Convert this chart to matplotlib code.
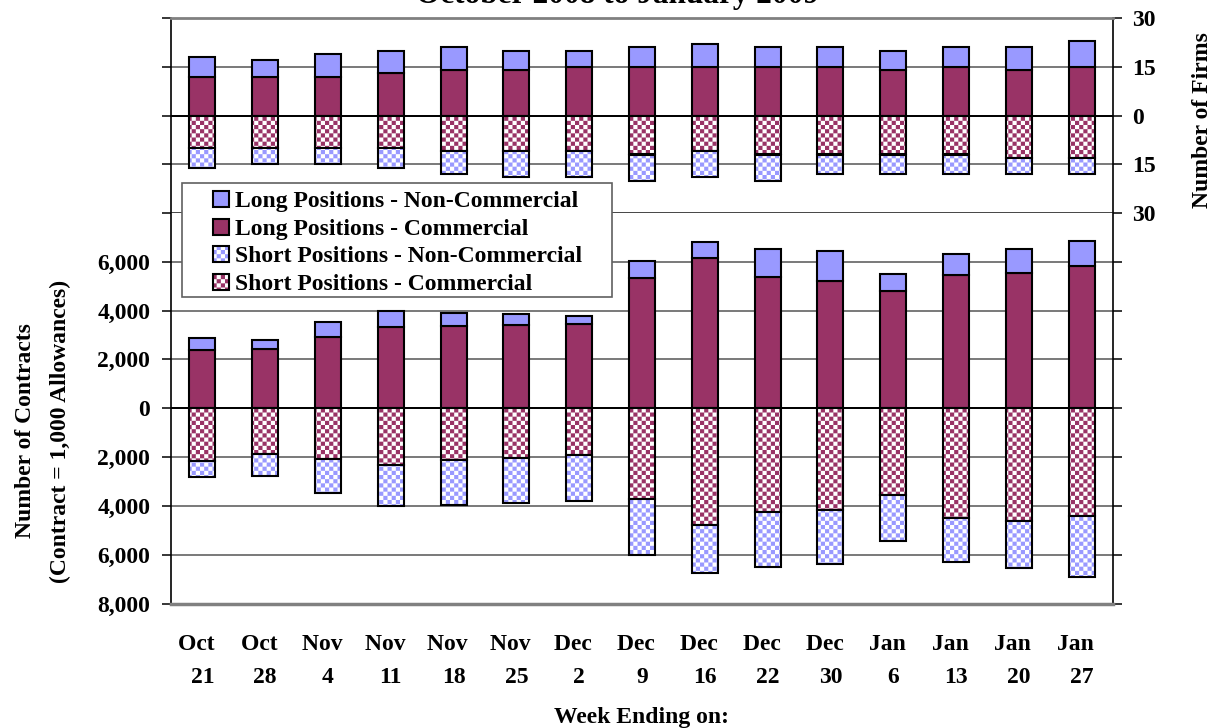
import matplotlib
matplotlib.use("Agg")
import matplotlib.pyplot as plt
import matplotlib.hatch as mhatch
from matplotlib.path import Path
from matplotlib.patches import Rectangle
import matplotlib.colors as mcolors
import numpy as np

# ---------------- data ----------------
months = ["Oct", "Oct", "Nov", "Nov", "Nov", "Nov", "Dec", "Dec", "Dec", "Dec", "Dec", "Jan", "Jan", "Jan", "Jan"]
days = [21, 28, 4, 11, 18, 25, 2, 9, 16, 22, 30, 6, 13, 20, 27]

# Number of firms
firms_long_comm = [12, 12, 12, 13, 14, 14, 15, 15, 15, 15, 15, 14, 15, 14, 15]
firms_long_noncomm = [6, 5, 7, 7, 7, 6, 5, 6, 7, 6, 6, 6, 6, 7, 8]
firms_short_comm = [10, 10, 10, 10, 11, 11, 11, 12, 11, 12, 12, 12, 12, 13, 13]
firms_short_noncomm = [6, 5, 5, 6, 7, 8, 8, 8, 8, 8, 6, 6, 6, 5, 5]

# Number of contracts
contracts_long_comm = [2390, 2420, 2935, 3330, 3385, 3415, 3440, 5340, 6165, 5385, 5205, 4810, 5440, 5535, 5810]
contracts_long_total = [2895, 2800, 3535, 4000, 3920, 3865, 3795, 6030, 6822, 6534, 6425, 5507, 6315, 6507, 6836]
contracts_short_comm = [2170, 1855, 2090, 2335, 2130, 2020, 1910, 3727, 4765, 4260, 4165, 3550, 4505, 4600, 4395]
contracts_short_total = [2825, 2760, 3480, 4015, 3975, 3865, 3785, 5995, 6760, 6500, 6375, 5450, 6305, 6525, 6895]

series_names = ["Long Positions - Non-Commercial", "Long Positions - Commercial",
                "Short Positions - Non-Commercial", "Short Positions - Commercial"]

# ---------------- styles ----------------
C_BLUE = "#9999FF"
C_MAROON = "#993366"
FONT = "Liberation Serif"
FS = 17


# checkerboard hatch (replaces the 'O' hatch)
class CheckerHatch(mhatch.HatchPatternBase):
    def __init__(self, hatch, density):
        self.n = 24 if "O" in hatch else 0
        self.num_vertices = (self.n * self.n // 2) * 5

    def set_vertices_and_codes(self, vertices, codes):
        n = self.n
        s = 1.0 / n
        k = 0
        for i in range(n):
            for j in range(n):
                if (i + j) % 2 == 0:
                    x0, y0 = i * s, j * s
                    vertices[k:k + 5] = [(x0, y0), (x0 + s, y0), (x0 + s, y0 + s), (x0, y0 + s), (x0, y0)]
                    codes[k:k + 5] = [Path.MOVETO, Path.LINETO, Path.LINETO, Path.LINETO, Path.CLOSEPOLY]
                    k += 5


mhatch._hatch_types = [CheckerHatch if t is mhatch.LargeCircles else t for t in mhatch._hatch_types]

plt.rcParams["font.family"] = [FONT, "DejaVu Serif"]
plt.rcParams["font.weight"] = "bold"
plt.rcParams["hatch.linewidth"] = 0.0


def set_hatch_color(container, color):
    rgba = mcolors.to_rgba(color)
    for p in container:
        try:
            p.set_hatchcolor(rgba)
        except AttributeError:
            p._hatch_color = rgba


W, H = 1217, 728
fig = plt.figure(figsize=(W / 100, H / 100), dpi=100)

x0, x1 = 171, 1113
ax_top = fig.add_axes([x0 / W, 1 - 213 / H, (x1 - x0) / W, 195 / H])
ax_bot = fig.add_axes([x0 / W, 1 - 603.5 / H, (x1 - x0) / W, 390.5 / H])

x = np.arange(len(days))
bw = 0.414
edge = dict(edgecolor="black", linewidth=1.5)


def draw_panel(ax, lc, lnc, sc, snc):
    lc = np.asarray(lc, float)
    lnc = np.asarray(lnc, float)
    sc = np.asarray(sc, float)
    snc = np.asarray(snc, float)
    b1 = ax.bar(x, lc, bw, color=C_MAROON, zorder=3, **edge)
    b0 = ax.bar(x, lnc, bw, bottom=lc, color=C_BLUE, zorder=3, **edge)
    b3 = ax.bar(x, -sc, bw, color="white", hatch="O", zorder=3, **edge)
    b2 = ax.bar(x, -snc, bw, bottom=-sc, color="white", hatch="O", zorder=3, **edge)
    set_hatch_color(b3, C_MAROON)
    set_hatch_color(b2, C_BLUE)
    return b0, b1, b2, b3


handles = draw_panel(ax_top, firms_long_comm, firms_long_noncomm, firms_short_comm, firms_short_noncomm)
draw_panel(ax_bot, contracts_long_comm,
           np.array(contracts_long_total) - np.array(contracts_long_comm),
           contracts_short_comm,
           np.array(contracts_short_total) - np.array(contracts_short_comm))

GRID = "#6e6e6e"
for ax in (ax_top, ax_bot):
    ax.set_xlim(-0.5, len(days) - 0.5)
    ax.set_axisbelow(True)
    ax.yaxis.grid(True, color=GRID, linewidth=1.3)
    ax.xaxis.grid(False)
    for s in ("left", "right"):
        ax.spines[s].set_color("black")
        ax.spines[s].set_linewidth(1.2)
    ax.tick_params(axis="y", which="both", direction="out", length=6.5, width=1.1,
                   color="black", labelsize=FS, left=True, right=True)
    ax.tick_params(axis="x", length=0)

# top panel
ax_top.set_ylim(-30, 30)
ax_top.set_yticks([-30, -15, 0, 15, 30])
ax_top.set_yticklabels([str(abs(v)) for v in [-30, -15, 0, 15, 30]])
ax_top.tick_params(axis="y", labelleft=False, labelright=True, pad=7.5)
ax_top.set_xticks([])
ax_top.spines["top"].set_color("#808080")
ax_top.spines["top"].set_linewidth(2)
ax_top.spines["bottom"].set_color("#404040")
ax_top.spines["bottom"].set_linewidth(1.2)
ax_top.axhline(0, color="black", linewidth=1.4, zorder=1)

# bottom panel
ax_bot.set_ylim(-8000, 8000)
yt = [-8000, -6000, -4000, -2000, 0, 2000, 4000, 6000]
ax_bot.set_yticks(yt)
ax_bot.set_yticklabels([f"{abs(v):,}" for v in yt])
ax_bot.tick_params(axis="y", labelleft=True, labelright=False, pad=8.5)
ax_bot.spines["top"].set_visible(False)
ax_bot.spines["bottom"].set_color("#808080")
ax_bot.spines["bottom"].set_linewidth(2.5)
ax_bot.axhline(0, color="black", linewidth=1.4, zorder=1)
ax_bot.set_xticks(x)
ax_bot.set_xticklabels([f"{m}  \n{d}" for m, d in zip(months, days)],
                       fontsize=FS, linespacing=1.75)
ax_bot.tick_params(axis="x", pad=22)

for lab in ax_top.get_yticklabels() + ax_bot.get_yticklabels():
    lab.set_fontweight("bold")

# titles / labels
fig.text(618 / W, 1 - 3 / H, "October 2008 to January 2009", ha="center", va="baseline",
         fontsize=22.5, fontweight="bold")
fig.text(642 / W, 1 - 718 / H, "Week Ending on:", ha="center", va="center",
         fontsize=FS, fontweight="bold")
fig.text(43 / W, 1 - 431 / H, "Number of Contracts\n(Contract = 1,000 Allowances)",
         rotation=90, ha="center", va="center", multialignment="center",
         fontsize=FS, fontweight="bold", linespacing=1.9)
fig.text(1203 / W, 1 - 120 / H, "Number of Firms", rotation=90, ha="center", va="center",
         fontsize=FS, fontweight="bold")

# legend with a manually sized frame
frame = Rectangle((182 / W, 1 - 297 / H), (612 - 182) / W, (297 - 183) / H,
                  transform=fig.transFigure, facecolor="white", edgecolor="#606060",
                  linewidth=1.2, zorder=4)
fig.patches.append(frame)
leg = fig.legend(handles, series_names, loc="upper left",
                 bbox_to_anchor=(213 / W, 1 - 191 / H), frameon=False,
                 prop={"family": FONT, "weight": "bold", "size": FS},
                 handlelength=0.68, handleheight=0.68, handletextpad=0.25,
                 labelspacing=0.26, borderpad=0.0, borderaxespad=0.0)
leg.set_zorder(5)

fig.savefig("out.png", dpi=100)
